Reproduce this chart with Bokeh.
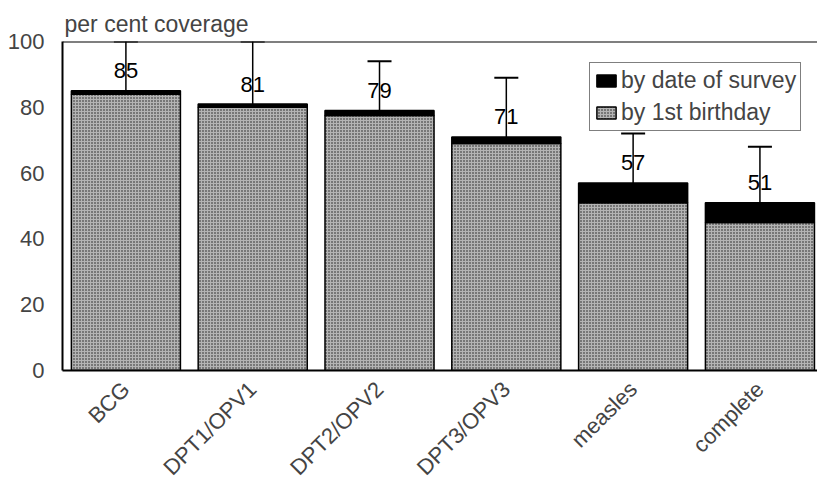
from bokeh.plotting import figure
from bokeh.models import (ColumnDataSource, Whisker, TeeHead, LabelSet, Legend, LegendItem,
                          FixedTicker, Span, Range1d)
from bokeh.core.properties import value
from bokeh.embed import file_html
from bokeh.resources import INLINE

# ---- data ----
categories = ["BCG", "DPT1/OPV1", "DPT2/OPV2", "DPT3/OPV3", "measles", "complete"]
by_survey = [85, 81, 79, 71, 57, 51]
by_birthday = [84, 80, 77.5, 69, 51, 45]
err_lower = [72, 68, 65, 53.5, 45, 38.5]
err_upper = [100, 100, 94, 89, 72, 68]
y_ticks = [0, 20, 40, 60, 80, 100]

FONT = "Liberation Sans"
xs = list(range(len(categories)))

src = ColumnDataSource(dict(
    x=xs, cat=categories, survey=by_survey, birthday=by_birthday,
    lower=err_lower, upper=err_upper, label=[str(v) for v in by_survey],
))

p = figure(width=817, height=491, output_backend="svg", toolbar_location=None,
           x_range=Range1d(-0.5, 5.454), y_range=Range1d(0, 100),
           min_border_left=62, min_border_right=0, min_border_top=41, min_border_bottom=121)
p.outline_line_color = None
p.grid.grid_line_color = None
p.background_fill_color = "white"

p.title.text = "per cent coverage"
p.title.text_font = FONT
p.title.text_font_size = "23px"
p.title.text_font_style = "normal"
p.title.align = "left"
p.title.standoff = 10
p.title.offset = 2

bw = 0.86
r_birth = p.vbar(x="x", top="birthday", bottom=0, width=bw, source=src,
                 fill_color="#b4b4b4", line_color="black", line_width=1.5,
                 hatch_pattern="dot", hatch_color="black", hatch_scale=3, hatch_weight=1.5, hatch_alpha=0.85)
r_surv = p.vbar(x="x", top="survey", bottom="birthday", width=bw, source=src,
                fill_color="black", line_color="black", line_width=1.5)

wh = Whisker(base="x", lower="lower", upper="upper", source=src,
             line_color="black", line_width=1.5,
             upper_head=TeeHead(size=24, line_color="black", line_width=2),
             lower_head=TeeHead(size=24, line_color="black", line_width=2))
p.add_layout(wh)

labels = LabelSet(x="x", y="survey", text="label", source=src, y_offset=20,
                  text_align="center", text_baseline="middle",
                  text_font=value(FONT), text_font_size=value("22px"), text_color="black")
p.add_layout(labels)

p.add_layout(Span(location=100, dimension="width", line_color="black", line_width=2))

# axes
p.xaxis.ticker = FixedTicker(ticks=xs)
p.xaxis.major_label_overrides = {i: c for i, c in zip(xs, categories)}
p.xaxis.major_label_orientation = 0.785398
p.xaxis.major_label_text_font = FONT
p.xaxis.major_label_text_font_size = "22px"
p.xaxis.major_label_standoff = 15
p.xaxis.major_tick_line_color = None
p.xaxis.minor_tick_line_color = None
p.xaxis.major_tick_out = 0
p.xaxis.major_tick_in = 0
p.xaxis.axis_line_color = "black"
p.xaxis.axis_line_width = 2

p.yaxis.ticker = FixedTicker(ticks=y_ticks)
p.yaxis.major_label_text_font = FONT
p.yaxis.major_label_text_font_size = "22px"
p.yaxis.major_label_standoff = 18
p.yaxis.major_tick_line_color = None
p.yaxis.minor_tick_line_color = None
p.yaxis.major_tick_out = 0
p.yaxis.major_tick_in = 0
p.yaxis.axis_line_color = "black"
p.yaxis.axis_line_width = 2

legend = Legend(items=[LegendItem(label="by date of survey", renderers=[r_surv]),
                       LegendItem(label="by 1st birthday", renderers=[r_birth])],
                location=(527, 239), label_text_font=FONT, label_text_font_size="23px",
                glyph_width=24, glyph_height=15, label_standoff=3, label_height=24,
                spacing=5, padding=4, margin=0,
                border_line_color="black", border_line_width=1.5,
                background_fill_color="white", background_fill_alpha=1)
p.add_layout(legend)

open("out.html", "w").write(file_html(p, INLINE))
